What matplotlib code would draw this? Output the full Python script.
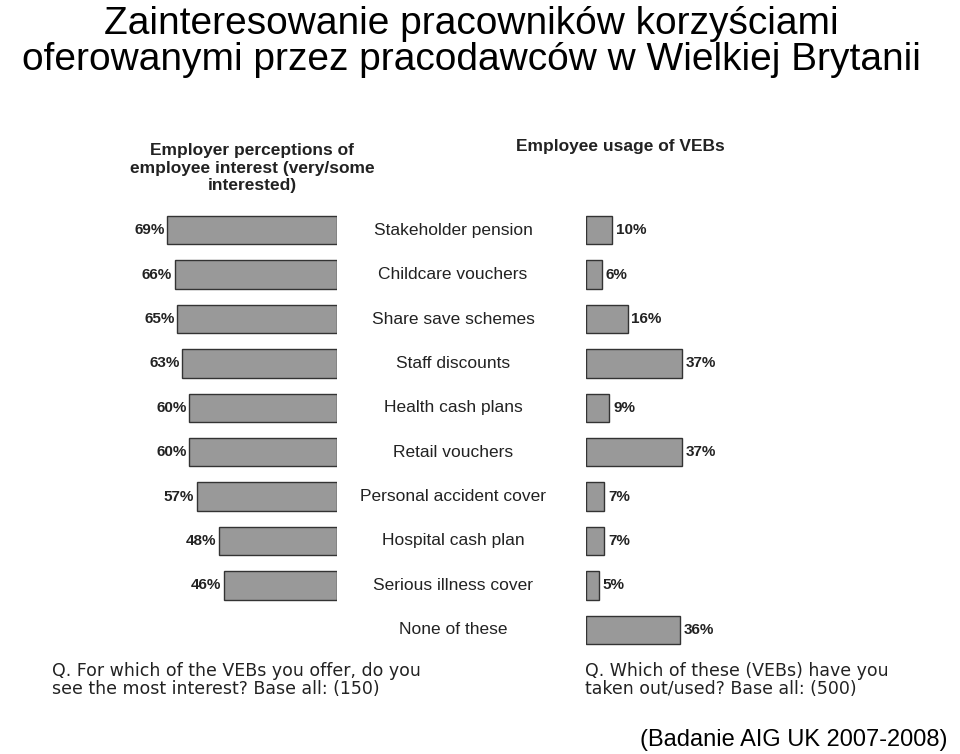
import matplotlib
matplotlib.use("Agg")
import matplotlib.pyplot as plt

categories = ["Stakeholder pension", "Childcare vouchers", "Share save schemes", "Staff discounts",
              "Health cash plans", "Retail vouchers", "Personal accident cover", "Hospital cash plan",
              "Serious illness cover", "None of these"]
interest = [69, 66, 65, 63, 60, 60, 57, 48, 46, None]
usage = [10, 6, 16, 37, 9, 37, 7, 7, 5, 36]

W, H = 960, 754
fig = plt.figure(figsize=(W/100, H/100), dpi=100)
plt.rcParams["font.family"] = "Liberation Sans"
top_px, bot_px = 208, 652
fb = 1 - bot_px/H; fh = (bot_px-top_px)/H

axl = fig.add_axes([100/W, fb, 237/W, fh])
axr = fig.add_axes([586/W, fb, 314/W, fh])
for ax in (axl, axr):
    ax.set_ylim(9.5, -0.5)
    ax.axis("off")
axl.set_xlim(237/2.46, 0)
axr.set_xlim(0, 314/2.6)

for i, v in enumerate(interest):
    if v is None: continue
    axl.barh(i, v, height=0.64, color="#999999", edgecolor="#333333", linewidth=1)
    axl.text(v+1, i, f"{v}%", ha="right", va="center", fontsize=11, fontweight="bold", color="#222222")
for i, v in enumerate(usage):
    axr.barh(i, v, height=0.64, color="#999999", edgecolor="#333333", linewidth=1)
    axr.text(v+1.5, i, f"{v}%", ha="left", va="center", fontsize=11, fontweight="bold", color="#222222")
for i, c in enumerate(categories):
    y = 1 - (top_px + (i+0.5)*(bot_px-top_px)/10)/H
    fig.text(453/W, y, c, ha="center", va="center", fontsize=12.5, color="#222222")

fig.text(252/W, 1-168/H, "Employer perceptions of\nemployee interest (very/some\ninterested)",
         ha="center", va="center", fontsize=12.5, fontweight="bold", color="#222222", linespacing=1.2)
fig.text(620/W, 1-147/H, "Employee usage of VEBs", ha="center", va="center",
         fontsize=12.5, fontweight="bold", color="#222222")
fig.text(52/W, 1-680/H, "Q. For which of the VEBs you offer, do you\nsee the most interest? Base all: (150)",
         ha="left", va="center", fontsize=12.5, family="DejaVu Sans", color="#222222", linespacing=1.0)
fig.text(585/W, 1-680/H, "Q. Which of these (VEBs) have you\ntaken out/used? Base all: (500)",
         ha="left", va="center", fontsize=12.5, family="DejaVu Sans", color="#222222", linespacing=1.0)
fig.text(471/W, 1-42/H, "Zainteresowanie pracowników korzyściami\noferowanymi przez pracodawców w Wielkiej Brytanii",
         ha="center", va="center", fontsize=28, color="black", linespacing=1.0)
fig.text(948/W, 1-740/H, "(Badanie AIG UK 2007-2008)", ha="right", va="center", fontsize=17, color="black")
fig.savefig("out.png", dpi=100)
